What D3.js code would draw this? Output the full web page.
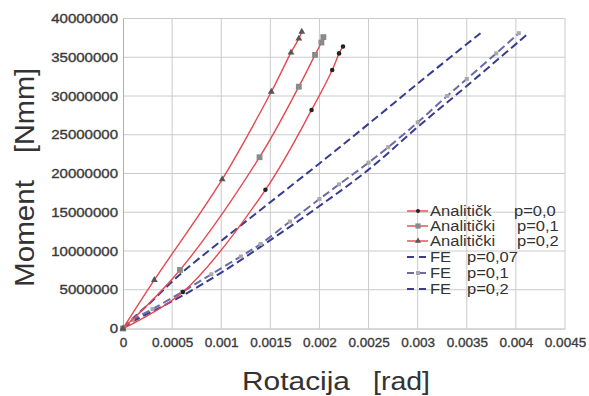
<!DOCTYPE html>
<html>
<head>
<meta charset="utf-8">
<script src="https://cdn.jsdelivr.net/npm/d3@7"></script>
<style>
  html, body { margin: 0; padding: 0; background: #fff; }
  svg { display: block; font-family: "Liberation Sans", Arial, sans-serif; }
</style>
</head>
<body>
<svg id="chart" width="589" height="396"></svg>
<script>
// Axis ticks
const xTicks = [0, 0.0005, 0.001, 0.0015, 0.002, 0.0025, 0.003, 0.0035, 0.004, 0.0045];
const xTickLabels = ["0", "0.0005", "0.001", "0.0015", "0.002", "0.0025", "0.003", "0.0035", "0.004", "0.0045"];
const yTicks = [0, 5e6, 10e6, 15e6, 20e6, 25e6, 30e6, 35e6, 40e6];
const yTickLabels = ["0", "5000000", "10000000", "15000000", "20000000", "25000000", "30000000", "35000000", "40000000"];

// Analytical solution, p = 0.0
const anP00Rot = [0, 0.00061, 0.00145, 0.00192, 0.00213, 0.00220, 0.00224];
const anP00Mom = [0, 4.7e6, 17.9e6, 28.2e6, 33.35e6, 35.5e6, 36.4e6];
// Analytical solution, p = 0.1
const anP01Rot = [0, 0.00058, 0.00139, 0.00179, 0.001955, 0.00202, 0.00204];
const anP01Mom = [0, 7.55e6, 22.1e6, 31.2e6, 35.3e6, 36.9e6, 37.6e6];
// Analytical solution, p = 0.2
const anP02Rot = [0, 0.000319, 0.00101, 0.00151, 0.00171, 0.00179, 0.00182];
const anP02Mom = [0, 6.26e6, 19.25e6, 30.55e6, 35.6e6, 37.4e6, 38.3e6];

// FE model, p = 0.07
const feP007Rot = [0, 0.0001, 0.00025, 0.0006, 0.001, 0.0015, 0.002, 0.0025, 0.003, 0.0035, 0.00364];
const feP007Mom = [0, 1.3e6, 3.0e6, 7.2e6, 11.3e6, 16.3e6, 21.3e6, 26.4e6, 31.6e6, 36.7e6, 38.1e6];
// FE model, p = 0.1
const feP01Rot = [0, 0.0001, 0.0003, 0.0006, 0.0009, 0.0012, 0.0014, 0.0017, 0.002, 0.0022, 0.0025, 0.0027, 0.003, 0.0033, 0.0035, 0.0038, 0.00403];
const feP01Mom = [0, 1.1e6, 2.5e6, 4.7e6, 7.0e6, 9.3e6, 10.9e6, 13.8e6, 16.7e6, 18.6e6, 21.4e6, 23.4e6, 26.6e6, 30.0e6, 32.2e6, 35.5e6, 38.1e6];
// FE model, p = 0.2
const feP02Rot = [0, 0.0001, 0.0003, 0.0006, 0.001, 0.0015, 0.002, 0.0025, 0.003, 0.0035, 0.00411];
const feP02Mom = [0, 0.9e6, 2.2e6, 4.2e6, 7.2e6, 11.4e6, 15.8e6, 20.5e6, 26.0e6, 31.3e6, 37.9e6];

// Legend texts
const legendNames = ["Analitičk", "Analitički", "Analitički", "FE", "FE", "FE"];
const legendParams = ["p=0,0", "p=0,1", "p=0,2", "p=0,07", "p=0,1", "p=0,2"];

const xTitle = ["Rotacija", "[rad]"];
const yTitle = ["Moment", "[Nmm]"];

const zip = (a, b) => a.map((v, i) => [v, b[i]]);

const svg = d3.select("#chart");
const x = d3.scaleLinear().domain([0, 0.0045]).range([123, 565]);
const y = d3.scaleLinear().domain([0, 40e6]).range([328.5, 18.5]);

const RED = "#e5484f";
const NAVY = "#363c8e";
const FEMID = "#6a6aa6";
const LABEL = "#3a3a3a";

// grid
const grid = svg.append("g");
grid.selectAll("line.v").data(xTicks.slice(1)).join("line")
  .attr("x1", d => x(d)).attr("x2", d => x(d))
  .attr("y1", y(0)).attr("y2", y(40e6))
  .attr("stroke", "#cacaca").attr("stroke-width", 1);
grid.selectAll("line.h").data(yTicks.slice(1)).join("line")
  .attr("x1", x(0)).attr("x2", x(0.0045))
  .attr("y1", d => y(d)).attr("y2", d => y(d))
  .attr("stroke", "#cacaca").attr("stroke-width", 1);

// axes
const xAxis = svg.append("g").attr("transform", `translate(0,${y(0)})`)
  .call(d3.axisBottom(x).tickValues(xTicks).tickFormat((d, i) => xTickLabels[i]).tickSize(0).tickPadding(9));
xAxis.select(".domain").attr("stroke", "#b0b0b0");
xAxis.selectAll("text").attr("font-size", 13.5).attr("fill", LABEL)
  .attr("stroke", LABEL).attr("stroke-width", 0.35)
  .attr("font-family", "Liberation Sans, Arial, sans-serif");

const yAxis = svg.append("g").attr("transform", `translate(${x(0)},0)`)
  .call(d3.axisLeft(y).tickValues(yTicks).tickFormat((d, i) => yTickLabels[i]).tickSize(0).tickPadding(5));
yAxis.select(".domain").attr("stroke", "#b0b0b0");
yAxis.selectAll("text").attr("font-size", 12.5).attr("fill", LABEL)
  .attr("stroke", LABEL).attr("stroke-width", 0.35)
  .attr("font-family", "Liberation Sans, Arial, sans-serif")
  .each(function () {
    const w = this.getComputedTextLength();
    d3.select(this).attr("textLength", w * 1.2).attr("lengthAdjust", "spacingAndGlyphs");
  });

// series
const line = d3.line().x(d => x(d[0])).y(d => y(d[1])).curve(d3.curveCatmullRom.alpha(0.5));

const feSeries = [
  { pts: zip(feP007Rot, feP007Mom), color: NAVY },
  { pts: zip(feP01Rot, feP01Mom), color: FEMID },
  { pts: zip(feP02Rot, feP02Mom), color: NAVY }
];
svg.append("g").selectAll("path").data(feSeries).join("path")
  .attr("d", d => line(d.pts)).attr("fill", "none")
  .attr("stroke", d => d.color).attr("stroke-width", 2)
  .attr("stroke-dasharray", "8,4");

// grey markers along the FE p=0.1 curve
svg.append("g").selectAll("rect").data(zip(feP01Rot, feP01Mom).slice(1)).join("rect")
  .attr("x", d => x(d[0]) - 2).attr("y", d => y(d[1]) - 2)
  .attr("width", 4).attr("height", 4).attr("fill", "#a8a8a8");

const anSeries = [
  { pts: zip(anP00Rot, anP00Mom), marker: "dot" },
  { pts: zip(anP01Rot, anP01Mom), marker: "square" },
  { pts: zip(anP02Rot, anP02Mom), marker: "triangle" }
];
svg.append("g").selectAll("path").data(anSeries).join("path")
  .attr("d", d => line(d.pts)).attr("fill", "none")
  .attr("stroke", RED).attr("stroke-width", 1.4);

const symFor = {
  dot: { type: d3.symbolCircle, size: 16, fill: "#222" },
  square: { type: d3.symbolSquare, size: 34, fill: "#8a8a8a" },
  triangle: { type: d3.symbolTriangle, size: 20, fill: "#555" }
};
anSeries.forEach(s => {
  const m = symFor[s.marker];
  svg.append("g").selectAll("path").data(s.pts).join("path")
    .attr("transform", d => `translate(${x(d[0])},${y(d[1])})`)
    .attr("d", d3.symbol().type(m.type).size(m.size)())
    .attr("fill", m.fill);
});

// legend
const legend = svg.append("g");
const rowY = [211, 226, 241, 257, 273, 289];
legendNames.forEach((name, i) => {
  const ry = rowY[i];
  const g = legend.append("g");
  if (i < 3) {
    g.append("line").attr("x1", 407).attr("x2", 428).attr("y1", ry).attr("y2", ry)
      .attr("stroke", RED).attr("stroke-width", 1.4);
    const m = symFor[anSeries[i].marker];
    g.append("path").attr("transform", `translate(418,${ry})`)
      .attr("d", d3.symbol().type(m.type).size(m.size * 0.8)()).attr("fill", m.fill);
  } else {
    g.append("line").attr("x1", 407).attr("x2", 428).attr("y1", ry).attr("y2", ry)
      .attr("stroke", feSeries[i - 3].color).attr("stroke-width", 2)
      .attr("stroke-dasharray", "7,5");
    if (i === 4) {
      g.append("rect").attr("x", 416).attr("y", ry - 2).attr("width", 4).attr("height", 4).attr("fill", "#a8a8a8");
    }
  }
  const t = g.append("text").attr("x", 430).attr("y", ry + 5)
    .attr("font-size", 14).attr("fill", "#333").text(name);
  t.attr("textLength", t.node().getComputedTextLength() * 1.18).attr("lengthAdjust", "spacingAndGlyphs");
  const px = i === 0 ? 514 : (i < 3 ? 517 : 467);
  const t2 = g.append("text").attr("x", px).attr("y", ry + 5)
    .attr("font-size", 14).attr("fill", "#333").text(legendParams[i]);
  t2.attr("textLength", t2.node().getComputedTextLength() * 1.18).attr("lengthAdjust", "spacingAndGlyphs");
});

// axis titles
svg.append("text").attr("x", 242).attr("y", 390).attr("font-size", 26).attr("fill", "#333")
  .attr("textLength", 108).attr("lengthAdjust", "spacingAndGlyphs").text(xTitle[0]);
svg.append("text").attr("x", 373).attr("y", 390).attr("font-size", 26).attr("fill", "#333")
  .attr("textLength", 57).attr("lengthAdjust", "spacingAndGlyphs").text(xTitle[1]);

const yt = svg.append("g").attr("transform", "translate(33.5,0) rotate(-90)");
yt.append("text").attr("x", -287).attr("y", 0).attr("font-size", 28).attr("fill", "#333")
  .attr("textLength", 107).attr("lengthAdjust", "spacingAndGlyphs").text(yTitle[0]);
yt.append("text").attr("x", -153).attr("y", 0).attr("font-size", 28).attr("fill", "#333")
  .attr("textLength", 85).attr("lengthAdjust", "spacingAndGlyphs").text(yTitle[1]);
</script>
</body>
</html>
